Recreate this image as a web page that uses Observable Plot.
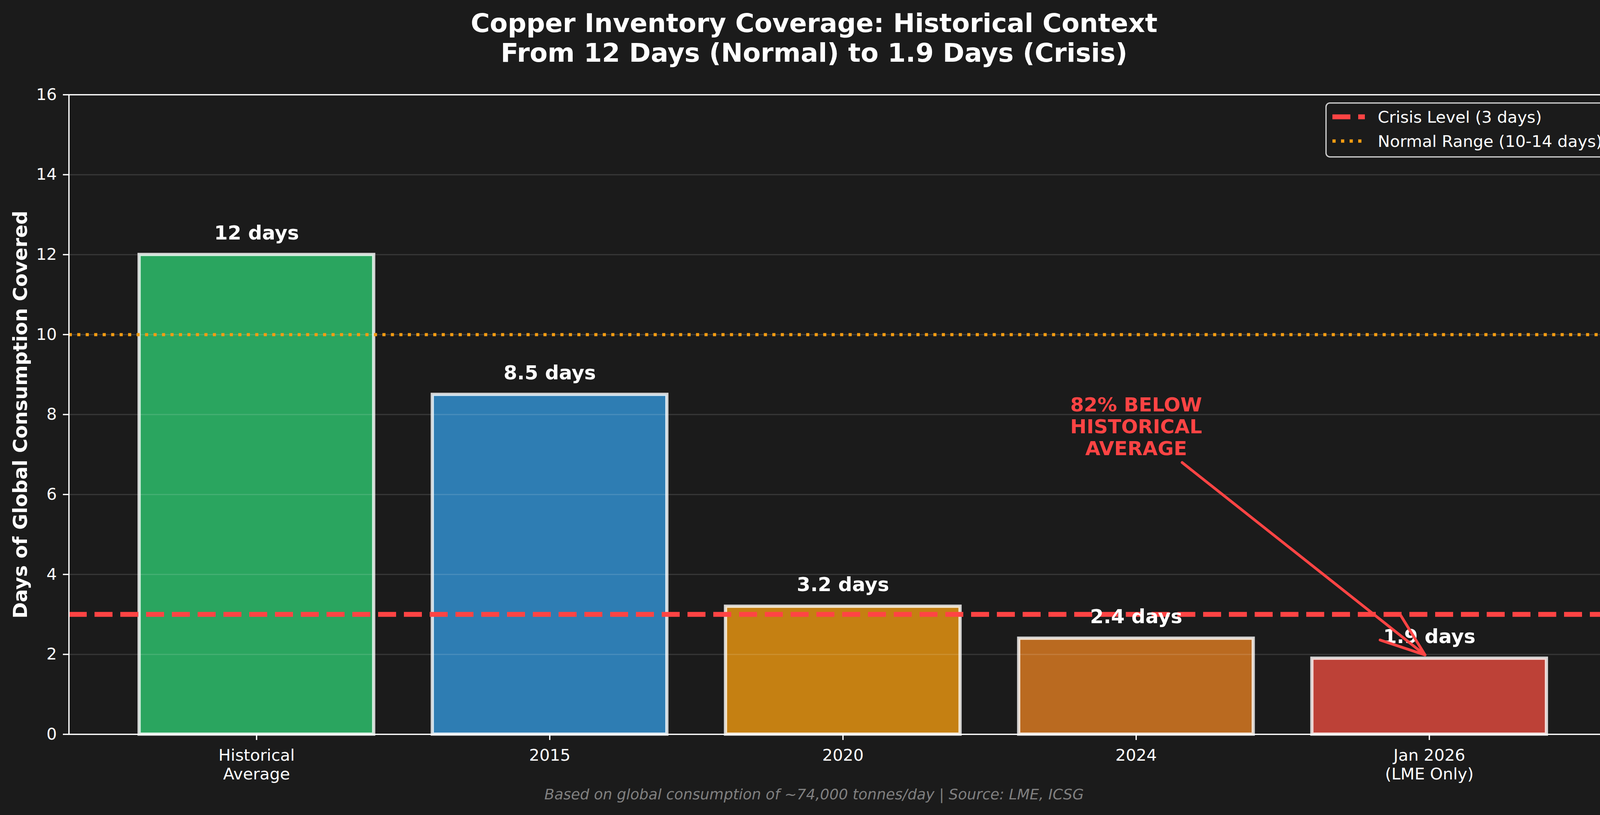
<!DOCTYPE html>
<html><head><meta charset="utf-8">
<script src="https://cdn.jsdelivr.net/npm/d3@7"></script>
<script src="https://cdn.jsdelivr.net/npm/@observablehq/plot@0.6"></script>
<style>
html,body{margin:0;padding:0;background:#1b1b1b;}
#root{position:relative;width:4168px;height:2086px;background:#1b1b1b;font-family:"DejaVu Sans",sans-serif;overflow:hidden}
#title{position:absolute;left:0;top:21px;width:4168px;text-align:center;color:#fff;font-weight:bold;font-size:66.7px;line-height:76px;}
#chart{position:absolute;left:0;top:180px;}
#caption{position:absolute;left:0;top:2015px;width:4168px;text-align:center;color:#808080;font-style:italic;font-size:37.5px;line-height:37.5px;}
#legend{position:absolute;left:3393px;top:262px;}
</style></head>
<body><div id="root">
<div id="title">Copper Inventory Coverage: Historical Context<br>From 12 Days (Normal) to 1.9 Days (Crisis)</div>
<div id="chart"></div>
<div id="legend"></div>
<div id="caption">Based on global consumption of ~74,000 tonnes/day | Source: LME, ICSG</div>
</div>
<script>
const categories = ["Historical\nAverage", "2015", "2020", "2024", "Jan 2026\n(LME Only)"];
const coverageDays = [12, 8.5, 3.2, 2.4, 1.9];
const yTicks = [0, 2, 4, 6, 8, 10, 12, 14, 16];
const crisisLevel = 3;
const normalLow = 10;
const annotationText = "82% BELOW\nHISTORICAL\nAVERAGE";
const annotationIndex = 3;
const annotationValue = 7.71;
const yLabel = "Days of Global Consumption Covered";
const legendLabels = ["Crisis Level (3 days)", "Normal Range (10-14 days)"];

const barColors = ["#2aa55f", "#2e7db3", "#c58012", "#ba6a20", "#bd4137"];
const bars = categories.map((c, i) => ({i, label: c, value: coverageDays[i], color: barColors[i]}));
const lastIdx = coverageDays.length - 1;
const arrowSpec = [{x1: annotationIndex, y1: annotationValue, x2: lastIdx, y2: coverageDays[lastIdx]}];

const chart = Plot.plot({
  width: 4168, height: 1830,
  marginTop: 62, marginBottom: 131, marginLeft: 176, marginRight: 29,
  style: {fontFamily: "DejaVu Sans", fontSize: "41.7px", color: "white", background: "transparent"},
  x: {domain: [-0.64, 4.64]},
  y: {domain: [0, 16]},
  marks: [
    Plot.rectY(bars, {x1: d => d.i - 0.4, x2: d => d.i + 0.4, y1: 0, y2: "value", fill: "color",
      stroke: "white", strokeOpacity: 0.8, strokeWidth: 8.3}),
    Plot.gridY(yTicks, {stroke: "white", strokeOpacity: 0.13, strokeWidth: 3}),
    Plot.ruleY([normalLow], {stroke: "#f39c12", strokeWidth: 8, strokeDasharray: "8,13.7"}),
    Plot.ruleY([crisisLevel], {stroke: "#ff4444", strokeWidth: 12.5, strokeDasharray: "46,20"}),
    Plot.text(bars, {x: "i", y: d => d.value + 0.3, text: d => `${d.value} days`, fill: "white",
      fontWeight: "bold", fontSize: 50, lineAnchor: "middle", dy: -24}),
    Plot.text([annotationText], {x: annotationIndex, y: annotationValue, text: d => d, fill: "#ff4444",
      fontWeight: "bold", fontSize: 50, lineAnchor: "middle", lineHeight: 1.12}),
    Plot.arrow(arrowSpec, {x1: "x1", y1: "y1", x2: "x2", y2: "y2", stroke: "#ff4444", strokeWidth: 7,
      headLength: 26, headAngle: 40, insetStart: 150, insetEnd: 14}),
    Plot.text([yLabel], {frameAnchor: "left", textAnchor: "middle", text: d => d, rotate: -90, fill: "white",
      fontWeight: "bold", fontSize: 50, lineAnchor: "middle", dx: -124}),
    Plot.axisY({ticks: yTicks, tickSize: 15, tickPadding: 16, strokeWidth: 3.3, label: null}),
    Plot.axisX({ticks: [0, 1, 2, 3, 4], tickFormat: i => categories[i], tickSize: 15, tickPadding: 18,
      strokeWidth: 3.3, label: null, lineHeight: 1.15}),
    Plot.frame({stroke: "white", strokeWidth: 3.3})
  ]
});
document.getElementById("chart").appendChild(chart);

// legend
const lg = d3.select("#legend").append("svg").attr("width", 727).attr("height", 143);
lg.append("rect").attr("x", 1.6).attr("y", 1.6).attr("width", 722).attr("height", 138).attr("rx", 10)
  .attr("fill", "#1b1b1b").attr("stroke", "#cccccc").attr("stroke-width", 3.3);
const legendStyles = [
  {stroke: "#ff4444", width: 12.5, dash: "46,20"},
  {stroke: "#f39c12", width: 8.3, dash: "8.3,13.7"}
];
legendLabels.forEach((t, k) => {
  const cy = 37 + k * 62;
  lg.append("line").attr("x1", 18).attr("x2", 101).attr("y1", cy).attr("y2", cy)
    .attr("stroke", legendStyles[k].stroke).attr("stroke-width", legendStyles[k].width)
    .attr("stroke-dasharray", legendStyles[k].dash);
  lg.append("text").attr("x", 134).attr("y", cy + 15).attr("fill", "white")
    .attr("font-family", "DejaVu Sans").attr("font-size", 41.7).text(t);
});
</script>
</body></html>
